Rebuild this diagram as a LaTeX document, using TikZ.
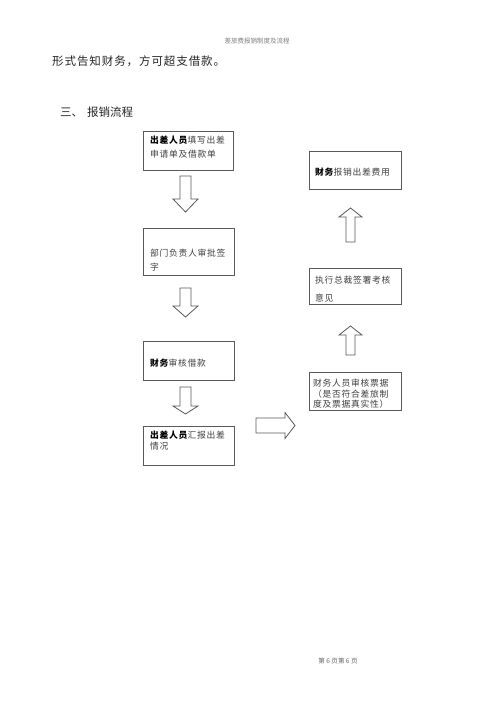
\documentclass[tikz,border=0pt]{standalone}
\usepackage{fontspec}
\setmainfont{Noto Sans CJK SC}
\newfontfamily\boxfont[LetterSpace=8]{Noto Sans CJK SC}
\newfontfamily\bodyfont[LetterSpace=8]{Noto Sans CJK SC}
\usetikzlibrary{calc}
\definecolor{linegray}{gray}{0.35}
\definecolor{txtgray}{gray}{0.25}
\tikzset{
  x=1pt, y=-1pt,
  stepbox/.style={draw=linegray, line width=0.9pt, rectangle, inner sep=0pt, anchor=north west},
  boxtxt/.style={anchor=north west, inner sep=0pt, align=left, text=txtgray,
    font=\boxfont\fontsize{8.8}{10}\selectfont},
  blockarrow/.style={draw=linegray, line width=0.8pt, fill=white, line join=miter},
}
\begin{document}
\begin{tikzpicture}
\useasboundingbox (0,0) rectangle (500,707);
\fill[white] (0,0) rectangle (500,707);

% header / body text
\node[inner sep=0pt, text=gray, font=\fontsize{6.5}{7}\selectfont] (hdr) at (257,41) {差旅费报销制度及流程};
\node[inner sep=0pt, anchor=west, text=black!85, font=\bodyfont\fontsize{11.5}{13}\selectfont] (l1) at (52,61) {形式告知财务，方可超支借款。};
\node[inner sep=0pt, anchor=west, text=black!85, font=\fontsize{11.5}{13}\selectfont] (sec) at (60,112) {三、\hspace{4pt}报销流程};

% left column boxes
\node[stepbox, minimum width=90, minimum height=39] (b1) at (143,131) {};
\node[boxtxt] (t1) at (150,136) {\textbf{\color{black}出差人员}填写出差\\[4pt]申请单及借款单};

\node[stepbox, minimum width=91, minimum height=47] (b2) at (143,228) {};
\node[boxtxt] (t2) at (150,249) {部门负责人审批签\\[4pt]字};

\node[stepbox, minimum width=91, minimum height=39] (b3) at (143,341) {};
\node[boxtxt] (t3) at (150,359) {\textbf{\color{black}财务}审核借款};

\node[stepbox, minimum width=91, minimum height=39] (b4) at (143,426) {};
\node[boxtxt] (t4) at (150,431) {\textbf{\color{black}出差人员}汇报出差\\[1pt]情况};

% right column boxes
\node[stepbox, minimum width=92, minimum height=38] (b7) at (309,151) {};
\node[boxtxt] (t7) at (315,168) {\textbf{\color{black}财务}报销出差费用};

\node[stepbox, minimum width=92, minimum height=36] (b6) at (309,268) {};
\node[boxtxt] (t6) at (315,276) {执行总裁签署考核\\[8pt]意见};

\node[stepbox, minimum width=92, minimum height=38] (b5) at (309,372) {};
\node[boxtxt, font=\boxfont\fontsize{8.8}{10.5}\selectfont] (t5) at (313,379) {财务人员审核票据\\（是否符合差旅制\\度及票据真实性）};

% down block arrows (left column)
\coordinate (a1) at (185.5,176);
\coordinate (a2) at (185.5,288);
\coordinate (a3) at (185.5,387);
\draw[blockarrow, shift={(a1)}] (-5.5,0) -- (-5.5,23) -- (-12.5,23) -- (0,36) -- (12.5,23) -- (5.5,23) -- (5.5,0) -- cycle;
\draw[blockarrow, shift={(a2)}] (-5.5,0) -- (-5.5,18) -- (-12.5,18) -- (0,29) -- (12.5,18) -- (5.5,18) -- (5.5,0) -- cycle;
\draw[blockarrow, shift={(a3)}] (-5.5,0) -- (-5.5,19) -- (-12.5,19) -- (0,27) -- (12.5,19) -- (5.5,19) -- (5.5,0) -- cycle;

% right block arrow
\coordinate (ar) at (256,425.5);
\draw[blockarrow, shift={(ar)}] (0,-7.5) -- (29,-7.5) -- (29,-13) -- (39,0) -- (29,13) -- (29,7.5) -- (0,7.5) -- cycle;

% up block arrows (right column)
\coordinate (u1) at (350.5,355);
\coordinate (u2) at (350.5,242);
\draw[blockarrow, shift={(u1)}] (-4.5,0) -- (-4.5,-20) -- (-11.5,-20) -- (0,-29) -- (11.5,-20) -- (4.5,-20) -- (4.5,0) -- cycle;
\draw[blockarrow, shift={(u2)}] (-4.5,0) -- (-4.5,-25) -- (-11.5,-25) -- (0,-34) -- (11.5,-25) -- (4.5,-25) -- (4.5,0) -- cycle;

% footer
\node[inner sep=0pt, text=gray!80!black, font=\fontsize{6.5}{7}\selectfont] (ftr) at (338,661) {第 6 页第 6 页};
\end{tikzpicture}
\end{document}
